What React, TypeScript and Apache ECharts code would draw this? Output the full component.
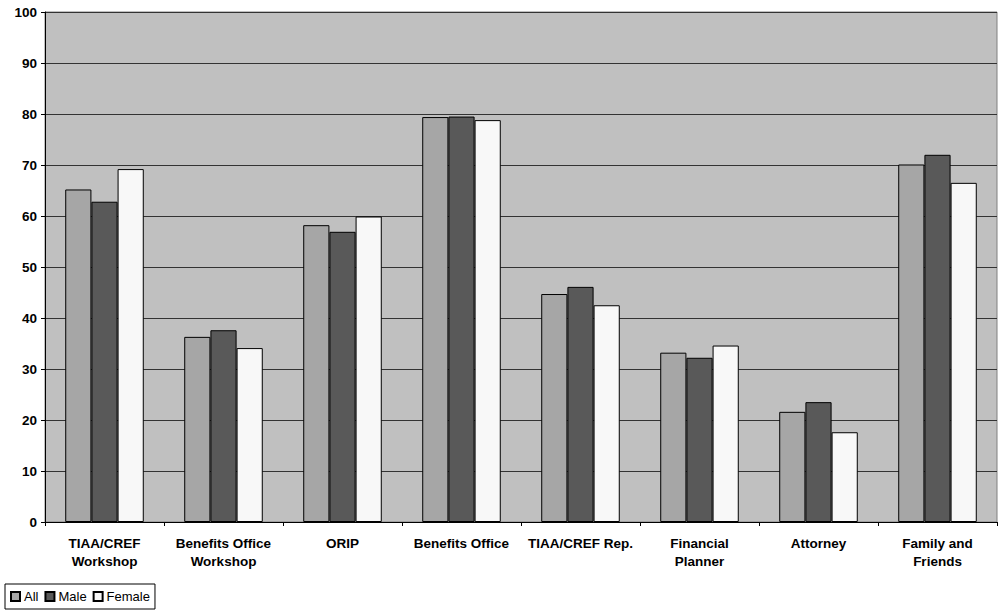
import React, { useEffect, useRef } from "react";
import * as echarts from "echarts";

const categories = [
  "TIAA/CREF\nWorkshop",
  "Benefits Office\nWorkshop",
  "ORIP",
  "Benefits Office",
  "TIAA/CREF Rep.",
  "Financial\nPlanner",
  "Attorney",
  "Family and\nFriends",
];
const allValues = [65.2, 36.3, 58.2, 79.4, 44.7, 33.2, 21.6, 70.1];
const maleValues = [62.8, 37.6, 56.9, 79.5, 46.1, 32.2, 23.5, 72.0];
const femaleValues = [69.2, 34.1, 59.9, 78.8, 42.5, 34.6, 17.6, 66.5];

const FONT = "'Liberation Sans', Arial, sans-serif";

export default function App() {
  const ref = useRef<HTMLDivElement>(null);
  useEffect(() => {
    if (!ref.current) return;
    const chart = echarts.init(ref.current, undefined, { renderer: "svg" });
    const barStyle = (color: string) => ({
      color,
      borderColor: "#000",
      borderWidth: 1,
    });
    chart.setOption({
      animation: false,
      textStyle: { fontFamily: FONT },
      grid: {
        left: 45,
        right: 3,
        top: 12,
        bottom: 91,
        show: true,
        backgroundColor: "#c0c0c0",
        borderColor: "#808080",
        borderWidth: 1,
      },
      legend: {
        left: 5,
        top: 584,
        orient: "horizontal",
        itemWidth: 9,
        itemHeight: 9,
        itemGap: 6,
        padding: [6, 5, 6, 5],
        borderColor: "#000",
        borderWidth: 1,
        icon: "rect",
        textStyle: { fontSize: 13, color: "#000", fontFamily: FONT, padding: [0, 0, 0, -1] },
        data: ["All", "Male", "Female"],
      },
      xAxis: {
        type: "category",
        data: categories,
        axisLine: { lineStyle: { color: "#000", width: 1 } },
        axisTick: { show: true, length: 4, lineStyle: { color: "#000" } },
        axisLabel: {
          color: "#000",
          fontWeight: "bold",
          fontSize: 13.5,
          fontFamily: FONT,
          lineHeight: 18,
          margin: 12,
          interval: 0,
        },
      },
      yAxis: {
        type: "value",
        min: 0,
        max: 100,
        interval: 10,
        axisLine: { show: true, lineStyle: { color: "#000", width: 1 } },
        axisTick: { show: true, length: 4, lineStyle: { color: "#000" } },
        axisLabel: {
          color: "#000",
          fontWeight: "bold",
          fontSize: 13.5,
          fontFamily: FONT,
          margin: 8,
        },
        splitLine: { show: true, lineStyle: { color: "#333", width: 1 } },
      },
      series: [
        {
          name: "All",
          type: "bar",
          data: allValues,
          barGap: "0%",
          barCategoryGap: "34%",
          itemStyle: barStyle("#a6a6a6"),
        },
        {
          name: "Male",
          type: "bar",
          data: maleValues,
          barGap: "0%",
          barCategoryGap: "34%",
          itemStyle: barStyle("#595959"),
        },
        {
          name: "Female",
          type: "bar",
          data: femaleValues,
          barGap: "0%",
          barCategoryGap: "34%",
          itemStyle: barStyle("#f8f8f8"),
        },
      ],
    });
    return () => chart.dispose();
  }, []);
  return <div ref={ref} style={{ width: 1000, height: 613, position: "absolute", left: 0, top: 0 }} />;
}
